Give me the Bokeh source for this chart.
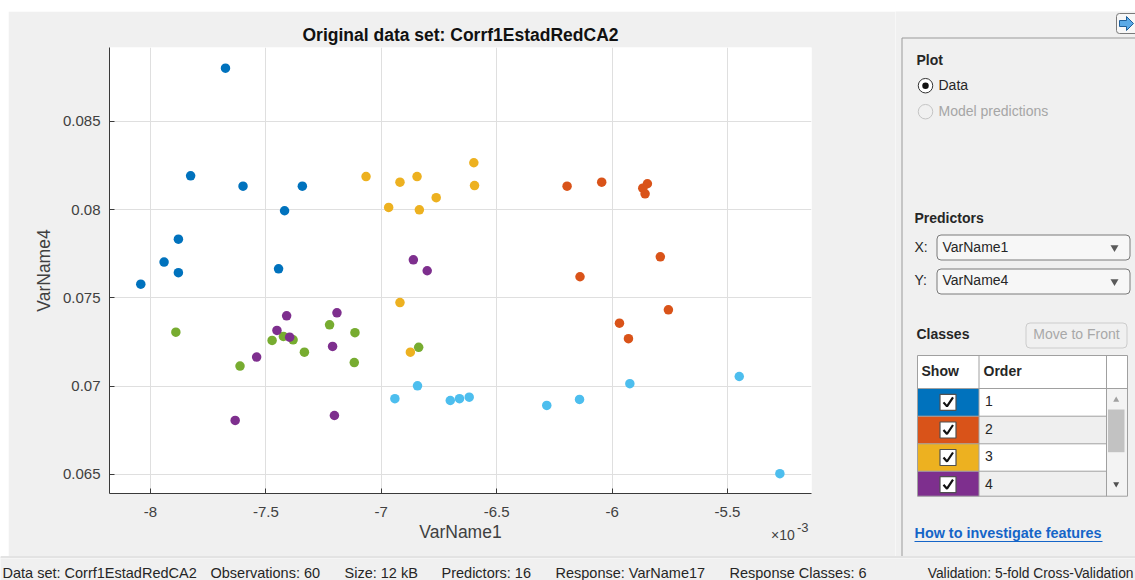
from bokeh.plotting import figure
from bokeh.models import (Range1d, FixedTicker, CustomJSTickFormatter, LinearAxis,
                          Spacer, BoxAnnotation)
from bokeh.layouts import column, row
from bokeh.core.properties import value
from bokeh.embed import file_html
from bokeh.resources import INLINE

FONT = "Liberation Sans"
BG = "#f0f0f0"

# ---------------------------------------------------------------- data
class_names = ["1", "2", "3", "4", "5", "6"]
class_colors = ["#0072BD", "#D95319", "#EDB120", "#7E2F8E", "#77AC30", "#4DBEEE"]

# VarName1 (in units of 1e-3) and VarName4 for each response class
c1_x = [-7.675, -7.826, -7.599, -7.342, -7.419, -7.879, -7.941, -7.879, -8.042, -7.445]
c1_y = [0.08802, 0.08192, 0.08133, 0.08133, 0.07994, 0.07833, 0.07703, 0.07643, 0.07578, 0.07665]
c2_x = [-6.195, -6.045, -5.847, -5.867, -5.857, -5.791, -6.139, -5.756, -5.968, -5.929]
c2_y = [0.08133, 0.08156, 0.08147, 0.08122, 0.08090, 0.07733, 0.07620, 0.07433, 0.07357, 0.07269]
c3_x = [-7.066, -6.919, -6.845, -6.762, -6.968, -6.835, -6.599, -6.596, -6.919, -6.874]
c3_y = [0.08188, 0.08156, 0.08188, 0.08068, 0.08013, 0.07999, 0.08266, 0.08137, 0.07474, 0.07193]
c4_x = [-6.861, -6.801, -7.410, -7.192, -7.452, -7.397, -7.540, -7.211, -7.633, -7.203]
c4_y = [0.07716, 0.07654, 0.07399, 0.07416, 0.07316, 0.07278, 0.07165, 0.07225, 0.06806, 0.06834]
c5_x = [-7.890, -7.612, -7.473, -7.424, -7.382, -7.333, -7.224, -7.114, -7.117, -6.838]
c5_y = [0.07306, 0.07114, 0.07259, 0.07282, 0.07263, 0.07193, 0.07348, 0.07303, 0.07134, 0.07220]
c6_x = [-6.701, -6.661, -6.619, -6.283, -6.141, -5.923, -5.449, -5.273, -6.941, -6.843]
c6_y = [0.06919, 0.06929, 0.06938, 0.06891, 0.06925, 0.07014, 0.07055, 0.06504, 0.06929, 0.07002]

class_x = [c1_x, c2_x, c3_x, c4_x, c5_x, c6_x]
class_y = [c1_y, c2_y, c3_y, c4_y, c5_y, c6_y]

x_ticks = [-8, -7.5, -7, -6.5, -6, -5.5]
y_ticks = [0.065, 0.07, 0.075, 0.08, 0.085]

dataset_name = "Corrf1EstadRedCA2"
status_items = [
    "Observations: 60",
    "Size: 12 kB",
    "Predictors: 16",
    "Response: VarName17",
    "Response Classes: 6",
]
status_x = [210, 344, 441, 555, 729]
validation_text = "Validation: 5-fold Cross-Validation"

# ---------------------------------------------------------------- scatter plot
p = figure(width=887, height=545,
           x_range=Range1d(-8.1775, -5.136), y_range=Range1d(0.06392, 0.08919),
           output_backend="svg", toolbar_location=None,
           min_border_left=101, min_border_right=84,
           min_border_top=36, min_border_bottom=63,
           background_fill_color="white", border_fill_color=BG,
           outline_line_color=None)
p.frame_align = False

p.title.text = "Original data set: " + dataset_name
p.title.align = "center"
p.title.text_font = FONT
p.title.text_font_size = "17.5px"
p.title.text_font_style = "bold"
p.title.text_color = "#111111"
p.title.standoff = 6

xa = p.xaxis[0]
ya = p.yaxis[0]
for ax in (xa, ya):
    ax.axis_line_color = "#3a3a3a"
    ax.major_tick_line_color = "#3a3a3a"
    ax.major_tick_in = 5
    ax.major_tick_out = 0
    ax.minor_tick_line_color = None
    ax.major_label_text_font = FONT
    ax.major_label_text_font_size = "15px"
    ax.major_label_text_color = "#404040"
    ax.axis_label_text_font = FONT
    ax.axis_label_text_font_size = "17.5px"
    ax.axis_label_text_font_style = "normal"
    ax.axis_label_text_color = "#404040"

xa.ticker = FixedTicker(ticks=x_ticks)
ya.ticker = FixedTicker(ticks=y_ticks)
fmt = CustomJSTickFormatter(code="return String(parseFloat(tick.toFixed(4)));")
xa.formatter = fmt
ya.formatter = fmt
xa.axis_label = "VarName1"
ya.axis_label = "VarName4"
xa.major_label_standoff = 13
xa.axis_label_standoff = 2
ya.major_label_standoff = 9
ya.axis_label_standoff = 6

p.grid.grid_line_color = "#dfdfdf"
p.grid.grid_line_width = 1

# classes drawn back to front so that class 1 ends up on top
for xs, ys, col in reversed(list(zip(class_x, class_y, class_colors))):
    p.scatter(xs, ys, size=9.5, fill_color=col, line_color=None)


# exponent of the x axis, written as bare tick labels under the right end of the axis
def exponent_axis(tick, text, size, standoff):
    ax = LinearAxis(ticker=FixedTicker(ticks=[tick]),
                    formatter=CustomJSTickFormatter(code=f"return '{text}';"))
    ax.axis_line_color = None
    ax.major_tick_line_color = None
    ax.minor_tick_line_color = None
    ax.major_label_text_font = FONT
    ax.major_label_text_font_size = size
    ax.major_label_text_color = "#404040"
    ax.major_label_standoff = standoff
    p.add_layout(ax, "below")


exponent_axis(-5.2597, "\u00d710", "14px", -24)
exponent_axis(-5.1740, "-3", "13px", -29)

# ---------------------------------------------------------------- side panel
q = figure(width=240, height=545, x_range=Range1d(895, 1135), y_range=Range1d(556, 11),
           output_backend="svg", toolbar_location=None, min_border=0,
           x_axis_location=None, y_axis_location=None,
           background_fill_color=BG, border_fill_color=BG, outline_line_color=None)
q.frame_align = False
q.grid.visible = False


def txt(fig, x, y, s, size=14, color="#262626", bold=False, align="left"):
    fig.text(x=[x], y=[y], text=[s], text_font=value(FONT),
             text_font_size=f"{size}px", text_color=color,
             text_font_style="bold" if bold else "normal",
             text_align=align, text_baseline="middle")


def rbox(fig, l, r, t, b, fill, line, radius=4):
    fig.add_layout(BoxAnnotation(left=l, right=r, top=t, bottom=b, level="underlay",
                                 fill_color=fill, fill_alpha=1,
                                 line_color=line, line_alpha=1, line_width=1,
                                 border_radius=radius))


# panel frame
q.line([901.5, 901.5], [37.5, 556], line_color="#9a9a9a", line_width=1)
q.line([901.5, 1135], [37.5, 37.5], line_color="#9a9a9a", line_width=1)

# export button in the corner
rbox(q, 1116, 1140, 13, 33, "#f7f7f7", "#7a7a7a", 3)
q.patch([1119, 1126, 1126, 1133, 1126, 1126, 1119],
        [20, 20, 16, 23, 30, 26, 26],
        fill_color="#5aa9e6", line_color="#1f5f9a", line_width=1)

# Plot section
txt(q, 916, 59.5, "Plot", bold=True)
q.scatter([925], [85.2], size=14.5, fill_color="white", line_color="#333333", line_width=1)
q.scatter([925], [85.2], size=6.5, fill_color="#111111", line_color=None)
txt(q, 938, 84.5, "Data")
q.scatter([925], [111.2], size=14.5, fill_color=BG, line_color="#c4c4c4", line_width=1)
txt(q, 938, 110.5, "Model predictions", color="#a6a6a6")

# Predictors section
txt(q, 914, 217, "Predictors", bold=True)
txt(q, 914, 246, "X:")
rbox(q, 936.5, 1129.5, 234.5, 259.5, "#f7f7f7", "#7b7b7b")
txt(q, 942, 246, "VarName1")
txt(q, 914, 279.5, "Y:")
rbox(q, 936.5, 1129.5, 268.5, 293.5, "#f7f7f7", "#7b7b7b")
txt(q, 942, 279.5, "VarName4")
q.scatter([1114, 1114], [247, 281], marker="inverted_triangle", size=8,
          fill_color="#5a5a5a", line_color=None)

# Classes section
txt(q, 916, 333.5, "Classes", bold=True)
rbox(q, 1025.5, 1126.5, 322.5, 347.5, BG, "#cccccc")
txt(q, 1076, 333.5, "Move to Front", color="#a8a8a8", align="center")

tbl_l, tbl_r, col1, col2 = 917, 1127, 978.5, 1106
hdr_t, hdr_b = 355, 388
row_edges = [388, 415.7, 443.3, 470.7, 495.7]
q.quad(left=[tbl_l], right=[tbl_r], top=[hdr_t], bottom=[hdr_b],
       fill_color="white", line_color=None)
txt(q, 921, 370.5, "Show", bold=True)
txt(q, 983, 370.5, "Order", bold=True)

shown = class_names[:4]
for i, name in enumerate(shown):
    t, b = row_edges[i], row_edges[i + 1]
    q.quad(left=[tbl_l], right=[col1], top=[t], bottom=[b],
           fill_color=class_colors[i], line_color=None)
    q.quad(left=[col1], right=[col2], top=[t], bottom=[b],
           fill_color="white" if i % 2 == 0 else "#efefef", line_color=None)
    cy = (t + b) / 2 + (1 if i == 3 else 0)
    q.quad(left=[939.5], right=[955.5], top=[cy - 8], bottom=[cy + 8],
           fill_color="white", line_color="#505050", line_width=1.2)
    q.line([943, 946.5, 952.5], [cy, cy + 4, cy - 5], line_color="#111111", line_width=2.2)
    txt(q, 984.5, cy - 1.2, name)

# scroll bar
q.quad(left=[col2], right=[tbl_r], top=[hdr_b], bottom=[row_edges[-1]],
       fill_color="#f3f3f3", line_color=None)
q.quad(left=[1107.5], right=[1124], top=[409], bottom=[451.7],
       fill_color="#c2c2c2", line_color=None)
q.scatter([1115.7], [399.5], marker="triangle", size=6, fill_color="#a0a0a0", line_color=None)
q.scatter([1115.7], [483.5], marker="inverted_triangle", size=6, fill_color="#505050", line_color=None)

# table rules
grid_c = "#a0a0a0"
q.multi_line(xs=[[tbl_l, col2]] * 4, ys=[[y, y] for y in row_edges[:4]],
             line_color=grid_c, line_width=1)
q.multi_line(xs=[[tbl_l, tbl_l], [col1, col1], [col2, col2], [tbl_r, tbl_r]],
             ys=[[hdr_t, row_edges[-1]], [hdr_t, row_edges[-1]],
                 [hdr_t, row_edges[-1]], [hdr_t, row_edges[-1]]],
             line_color=grid_c, line_width=1)
q.multi_line(xs=[[tbl_l, tbl_r], [tbl_l, tbl_r], [col2, tbl_r]],
             ys=[[hdr_t, hdr_t], [row_edges[-1], row_edges[-1]], [hdr_b, hdr_b]],
             line_color=grid_c, line_width=1)

# help link
txt(q, 914, 532.5, "How to investigate features", size=14.4, color="#1565c8", bold=True)
q.line([914, 1102], [541, 541], line_color="#1565c8", line_width=1)

# ---------------------------------------------------------------- status bar
s = figure(width=1135, height=24, x_range=Range1d(0, 1135), y_range=Range1d(580, 556),
           output_backend="svg", toolbar_location=None, min_border=0,
           x_axis_location=None, y_axis_location=None,
           background_fill_color=BG, border_fill_color=BG, outline_line_color=None)
s.frame_align = False
s.grid.visible = False
s.line([0, 1135], [556.5, 556.5], line_color="#a8a8a8", line_width=1)
s.line([0, 1135], [557.5, 557.5], line_color="#fafafa", line_width=1)
txt(s, 2, 572.5, "Data set: " + dataset_name, size=14.5)
for label, xpos in zip(status_items, status_x):
    txt(s, xpos, 572.5, label, size=14.5)
txt(s, 1133, 572.5, validation_text, size=13.8, align="right")

# ---------------------------------------------------------------- page
page = column(
    Spacer(width=1135, height=11),
    row(Spacer(width=8, height=545), p, q),
    s,
)

open("out.html", "w").write(file_html(page, INLINE))
